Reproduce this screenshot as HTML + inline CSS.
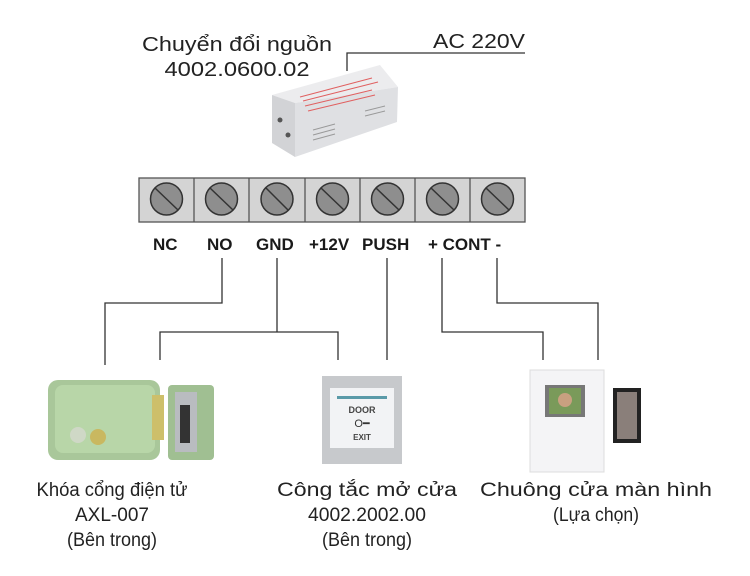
<!DOCTYPE html>
<html><head><meta charset="utf-8"><style>body{margin:0;background:#fff}svg{display:block}</style></head>
<body>
<svg width="750" height="576" viewBox="0 0 750 576" xmlns="http://www.w3.org/2000/svg" font-family="Liberation Sans, sans-serif">
<rect width="750" height="576" fill="#fff"/>
<!-- top labels -->
<text x="237" y="51" font-size="20" text-anchor="middle" fill="#222" textLength="190" lengthAdjust="spacingAndGlyphs">Chuyển đổi nguồn</text>
<text x="237" y="76" font-size="20" text-anchor="middle" fill="#222" textLength="145" lengthAdjust="spacingAndGlyphs">4002.0600.02</text>
<text x="525" y="48" font-size="20" text-anchor="end" fill="#222" textLength="92" lengthAdjust="spacingAndGlyphs">AC 220V</text>
<polyline points="347,71 347,53 525,53" fill="none" stroke="#333" stroke-width="1.3"/>
<!-- power supply box -->
<polygon points="272,95 380,65 398,87 295,103" fill="#ececee"/>
<polygon points="272,95 295,103 295,157 272,143" fill="#d2d3d6"/>
<polygon points="295,103 398,87 397,122 295,157" fill="#dfe0e3"/>
<g stroke="#e06060" stroke-width="1"><line x1="300" y1="97" x2="372" y2="78"/><line x1="303" y1="101" x2="378" y2="82"/><line x1="305" y1="106" x2="372" y2="90"/><line x1="308" y1="111" x2="375" y2="95"/></g>
<g stroke="#999" stroke-width="1"><line x1="313" y1="130" x2="335" y2="124"/><line x1="313" y1="135" x2="335" y2="129"/><line x1="313" y1="140" x2="335" y2="134"/><line x1="365" y1="111" x2="385" y2="106"/><line x1="365" y1="116" x2="385" y2="111"/></g>
<circle cx="280" cy="120" r="2.5" fill="#555"/><circle cx="288" cy="135" r="2.5" fill="#555"/>
<!-- terminal strip -->
<rect x="139" y="178" width="386" height="44" fill="#d4d4d4" stroke="#555" stroke-width="1.3"/>
<g stroke="#555" stroke-width="1.3">
<line x1="194" y1="178" x2="194" y2="222"/><line x1="249" y1="178" x2="249" y2="222"/><line x1="305" y1="178" x2="305" y2="222"/><line x1="360" y1="178" x2="360" y2="222"/><line x1="415" y1="178" x2="415" y2="222"/><line x1="470" y1="178" x2="470" y2="222"/>
</g>
<g fill="#8e8e8e" stroke="#333" stroke-width="1.5">
<circle cx="166.5" cy="199" r="16"/><circle cx="221.5" cy="199" r="16"/><circle cx="277" cy="199" r="16"/><circle cx="332.5" cy="199" r="16"/><circle cx="387.5" cy="199" r="16"/><circle cx="442.5" cy="199" r="16"/><circle cx="497.5" cy="199" r="16"/>
</g>
<g stroke="#333" stroke-width="1.5">
<line x1="155" y1="188" x2="178" y2="210"/><line x1="210" y1="188" x2="233" y2="210"/><line x1="266" y1="188" x2="288" y2="210"/><line x1="321" y1="188" x2="344" y2="210"/><line x1="376" y1="188" x2="399" y2="210"/><line x1="431" y1="188" x2="454" y2="210"/><line x1="486" y1="188" x2="509" y2="210"/>
</g>
<g font-size="17" font-weight="bold" fill="#1a1a1a">
<text x="153" y="250">NC</text><text x="207" y="250">NO</text><text x="256" y="250">GND</text><text x="309" y="250">+12V</text><text x="362" y="250">PUSH</text><text x="428" y="250">+ CONT -</text>
</g>
<!-- wires -->
<g fill="none" stroke="#333" stroke-width="1.3">
<polyline points="222,258 222,303 105,303 105,365"/>
<polyline points="277,258 277,332"/>
<polyline points="160,360 160,332 338,332 338,360"/>
<polyline points="387,258 387,360"/>
<polyline points="442,258 442,332 543,332 543,360"/>
<polyline points="497,258 497,303 598,303 598,360"/>
</g>
<!-- lock -->
<rect x="48" y="380" width="112" height="80" rx="10" fill="#a9c79a"/>
<rect x="55" y="385" width="100" height="68" rx="8" fill="#b8d6a8"/>
<circle cx="78" cy="435" r="8" fill="#cfd8c6"/>
<circle cx="98" cy="437" r="8" fill="#c9b860"/>
<rect x="152" y="395" width="12" height="45" fill="#cdbf6a"/>
<rect x="168" y="385" width="46" height="75" rx="4" fill="#a0bf92"/>
<rect x="175" y="392" width="22" height="60" fill="#b9bcc0"/>
<rect x="180" y="405" width="10" height="38" fill="#333"/>
<!-- door switch -->
<rect x="322" y="376" width="80" height="88" fill="#c7c9cc"/>
<rect x="330" y="388" width="64" height="60" fill="#f2f3f5"/>
<rect x="337" y="396" width="50" height="3" fill="#5a9aa8"/>
<text x="362" y="413" font-size="9" font-weight="bold" text-anchor="middle" fill="#444">DOOR</text>
<text x="362" y="427" font-size="11" text-anchor="middle" fill="#333">O━</text>
<text x="362" y="440" font-size="8" font-weight="bold" text-anchor="middle" fill="#444">EXIT</text>
<!-- monitor -->
<rect x="530" y="370" width="74" height="102" fill="#f4f4f6" stroke="#ddd"/>
<rect x="545" y="385" width="40" height="32" fill="#777"/>
<rect x="549" y="388" width="32" height="26" fill="#7a9a5a"/>
<circle cx="565" cy="400" r="7" fill="#c9a080"/>
<rect x="613" y="388" width="28" height="55" fill="#222"/>
<rect x="617" y="392" width="20" height="47" fill="#8a7f7a"/>
<!-- bottom labels -->
<g font-size="19" fill="#222" text-anchor="middle">
<text x="112" y="496" textLength="151" lengthAdjust="spacingAndGlyphs">Khóa cổng điện tử</text>
<text x="112" y="521" textLength="74" lengthAdjust="spacingAndGlyphs">AXL-007</text>
<text x="112" y="546" textLength="90" lengthAdjust="spacingAndGlyphs">(Bên trong)</text>
<text x="367" y="496" textLength="180" lengthAdjust="spacingAndGlyphs">Công tắc mở cửa</text>
<text x="367" y="521" textLength="118" lengthAdjust="spacingAndGlyphs">4002.2002.00</text>
<text x="367" y="546" textLength="90" lengthAdjust="spacingAndGlyphs">(Bên trong)</text>
<text x="596" y="496" textLength="232" lengthAdjust="spacingAndGlyphs">Chuông cửa màn hình</text>
<text x="596" y="521" textLength="86" lengthAdjust="spacingAndGlyphs">(Lựa chọn)</text>
</g>
</svg>
</body></html>
